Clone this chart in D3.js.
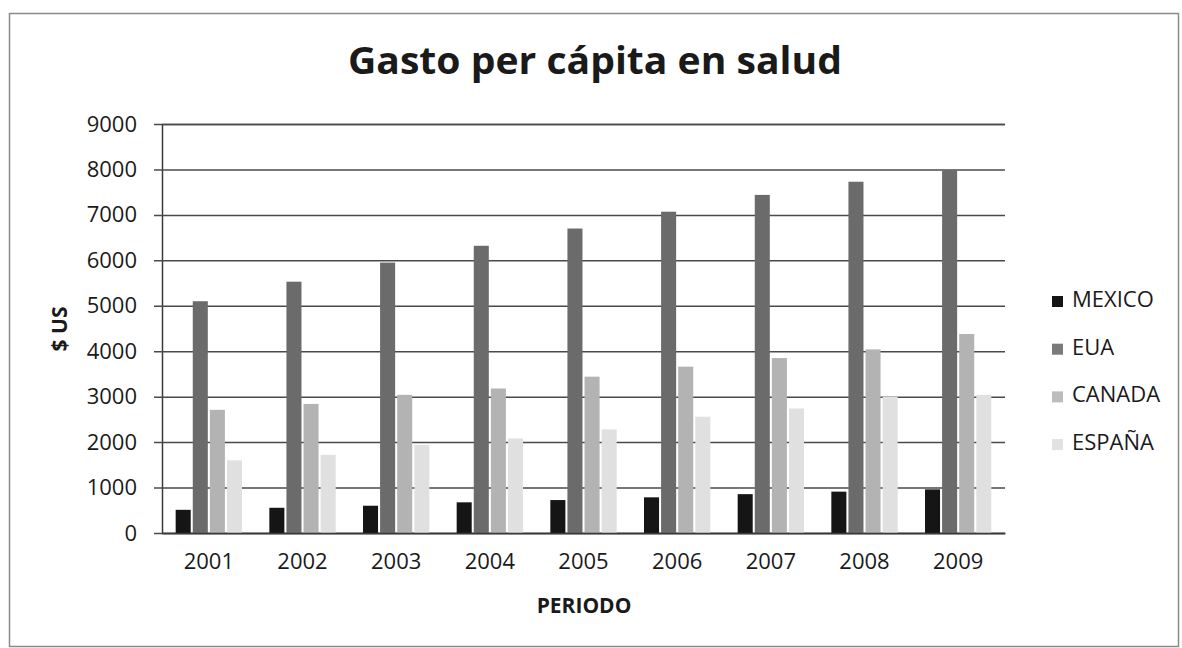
<!DOCTYPE html>
<html>
<head>
<meta charset="utf-8">
<script src="https://cdn.jsdelivr.net/npm/d3@7"></script>
<style>
  html, body { margin: 0; padding: 0; background: #fff; }
  svg { display: block; }
  text { font-family: "Open Sans", "DejaVu Sans", sans-serif; fill: #1a1a1a; }
</style>
</head>
<body>
<svg id="chart" width="1182" height="648"></svg>
<script>
// Health spending per capita (US$), 2001–2009
const years = ["2001", "2002", "2003", "2004", "2005", "2006", "2007", "2008", "2009"];
const countries = ["MEXICO", "EUA", "CANADA", "ESPAÑA"];
const mexico = [510, 555, 600, 675, 725, 785, 855, 910, 960];
const eua    = [5100, 5530, 5950, 6320, 6700, 7070, 7440, 7730, 7980];
const canada = [2710, 2840, 3040, 3180, 3440, 3660, 3850, 4040, 4380];
const espana = [1600, 1720, 1940, 2080, 2280, 2560, 2740, 3000, 3040];
const yTicks = [0, 1000, 2000, 3000, 4000, 5000, 6000, 7000, 8000, 9000];
const colors = ["#151515", "#6b6b6b", "#b3b3b3", "#e0e0e0"];
const legendColors = ["#151515", "#7a7a7a", "#bdbdbd", "#e2e2e2"];

const series = [mexico, eua, canada, espana];

const svg = d3.select("#chart");
const plot = { left: 162, right: 1005, top: 124, bottom: 533 };

// chart frame
svg.append("rect")
  .attr("x", 9.5).attr("y", 13.5)
  .attr("width", 1169).attr("height", 633)
  .attr("fill", "#fff").attr("stroke", "#8a8a8a").attr("stroke-width", 1.5);

const x0 = d3.scaleBand().domain(years)
  .range([plot.left, plot.right]).paddingInner(0.27).paddingOuter(0.135);
const x1 = d3.scaleBand().domain(countries)
  .range([0, x0.bandwidth()]).paddingInner(0.12).paddingOuter(0.06);
const y = d3.scaleLinear().domain([0, 9000]).range([plot.bottom, plot.top]);

// horizontal gridlines with the y axis
const yAxis = d3.axisLeft(y).tickValues(yTicks).tickFormat(d3.format("d"))
  .tickSize(-(plot.right - plot.left)).tickPadding(25);
const gy = svg.append("g").attr("transform", `translate(${plot.left},0)`).call(yAxis);
gy.select(".domain").attr("stroke", "#3a3a3a").attr("stroke-width", 1.5);
gy.selectAll(".tick line").attr("stroke", "#4a4a4a").attr("stroke-width", 1.5).attr("x1", -8);
gy.selectAll(".tick text")
  .attr("font-size", 22).attr("fill", "#1a1a1a")
  .style("font-family", "'Open Sans', sans-serif");

// bars
const groups = svg.append("g").selectAll("g")
  .data(years)
  .join("g")
  .attr("transform", d => `translate(${x0(d)},0)`);

groups.selectAll("rect")
  .data((yr, i) => countries.map((c, k) => ({ c, k, v: series[k][i] })))
  .join("rect")
  .attr("x", d => x1(d.c))
  .attr("width", x1.bandwidth())
  .attr("y", d => y(d.v))
  .attr("height", d => y(0) - y(d.v))
  .attr("fill", d => colors[d.k]);

// x axis
const xAxis = d3.axisBottom(x0).tickSize(0).tickPadding(20);
const gx = svg.append("g").attr("transform", `translate(0,${plot.bottom})`).call(xAxis);
gx.select(".domain").attr("stroke", "#3a3a3a").attr("stroke-width", 1.5);
gx.selectAll(".tick text")
  .attr("font-size", 22).attr("fill", "#1a1a1a")
  .style("font-family", "'Open Sans', sans-serif");

// title
svg.append("text")
  .attr("x", 595).attr("y", 74)
  .attr("text-anchor", "middle")
  .attr("font-size", 37).attr("font-weight", "bold")
  .attr("textLength", 494).attr("lengthAdjust", "spacingAndGlyphs")
  .text("Gasto per cápita en salud");

// axis titles
svg.append("text")
  .attr("x", 584).attr("y", 613)
  .attr("text-anchor", "middle")
  .attr("font-size", 21).attr("font-weight", "bold")
  .text("PERIODO");

svg.append("text")
  .attr("transform", "translate(67,329) rotate(-90)")
  .attr("text-anchor", "middle")
  .attr("font-size", 21).attr("font-weight", "bold")
  .text("$ US");

// legend
const legend = svg.append("g").selectAll("g")
  .data(countries)
  .join("g")
  .attr("transform", (d, i) => `translate(1052,${307 + i * 47.7})`);
legend.append("rect")
  .attr("x", 0).attr("y", -11).attr("width", 11).attr("height", 11)
  .attr("fill", (d, i) => legendColors[i]);
legend.append("text")
  .attr("x", 20).attr("y", 0)
  .attr("font-size", 22)
  .text(d => d);
</script>
</body>
</html>
